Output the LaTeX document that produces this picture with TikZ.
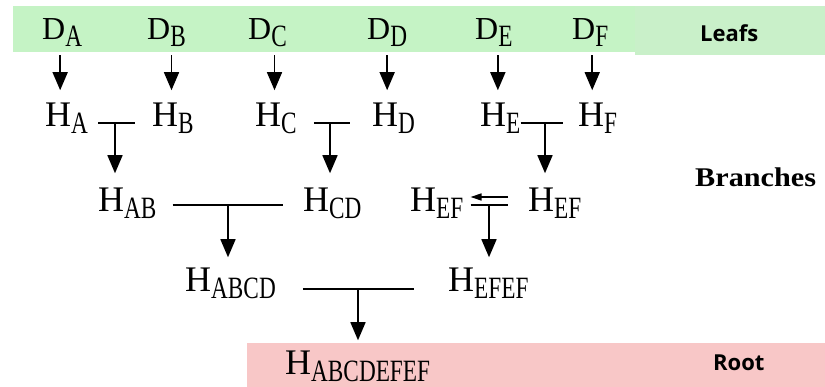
\documentclass[tikz,border=0pt]{standalone}
\usepackage{fontspec}
\usepackage{graphicx}
\setmainfont{Liberation Serif}
\newfontfamily\tagfont{Open Sans}
\usetikzlibrary{arrows.meta}
\definecolor{leafgreen}{RGB}{197,243,197}
\definecolor{leafgreenR}{RGB}{201,240,201}
\definecolor{rootpink}{RGB}{248,199,199}
\newcommand{\hsub}[1]{\raisebox{-6.5pt}{\scalebox{0.75}[1]{\fontsize{31}{31}\selectfont #1}}}

\begin{document}
\begin{tikzpicture}[x=1pt,y=1pt,
        hash node/.style={inner sep=0pt,anchor=base west,font=\fontsize{36}{36}\selectfont},
        data node/.style={inner sep=0pt,anchor=base west,font=\fontsize{32}{32}\selectfont},
        tag node/.style={inner sep=0pt,anchor=base west,font=\tagfont\bfseries\fontsize{22}{22}\selectfont},
        merge line/.style={line width=1.5pt},
        arr/.style={line width=1.5pt,-{Triangle[width=15pt,length=18pt]}}]

    \useasboundingbox (0,0) rectangle (825,387);
    \fill[leafgreen] (13,335) rectangle (635,381);
    \fill[leafgreenR] (635,332) rectangle (825,381);
    \fill[rootpink] (247,0) rectangle (825,44);

    % leafs
    \node[data node] (da) at (42,347)  {D\hsub{A}};
    \node[data node] (db) at (147,347) {D\hsub{B}};
    \node[data node] (dc) at (248,347) {D\hsub{C}};
    \node[data node] (dd) at (367,347) {D\hsub{D}};
    \node[data node] (de) at (475,347) {D\hsub{E}};
    \node[data node] (df) at (572,347) {D\hsub{F}};

    % branches
    \node[hash node] (ha) at (45,260)  {H\hsub{A}};
    \node[hash node] (hb) at (152,260) {H\hsub{B}};
    \node[hash node] (hc) at (255,260) {H\hsub{C}};
    \node[hash node] (hd) at (372,260) {H\hsub{D}};
    \node[hash node] (he) at (480,260) {H\hsub{E}};
    \node[hash node] (hf) at (578,260) {H\hsub{F}};

    \node[hash node] (hab) at (98,175)   {H\hsub{AB}};
    \node[hash node] (hcd) at (303,175)  {H\hsub{CD}};
    \node[hash node] (hefl) at (410,175) {H\hsub{EF}};
    \node[hash node] (hefr) at (528,175) {H\hsub{EF}};

    \node[hash node] (habcd) at (185,95) {H\hsub{ABCD}};
    \node[hash node] (hefef) at (448,95) {H\hsub{EFEF}};

    % root
    \node[hash node] (hroot) at (285,12) {H\hsub{ABCDEFEF}};

    \node[tag node] (leafs) at (700,345) {Leafs};
    \node[inner sep=0pt,anchor=base west,font=\bfseries\fontsize{27}{27}\selectfont] (branches) at (695,200) {\scalebox{1.12}[1]{Branches}};
    \node[tag node] (root) at (713,16) {Root};

    \foreach \dn/\hn/\dx in {da/ha/-2,db/hb/5,dc/hc/7,dd/hd/0,de/he/4,df/hf/2}
        \draw[arr] ([xshift=\dx pt,yshift=-8.5pt]\dn.south) -- ([xshift=\dx pt,yshift=13pt]\dn.south |- \hn.north);

    \coordinate (jab) at (115,264);
    \draw[merge line,shorten <=10pt,shorten >=17pt] (ha.east |- jab) -- (hb.west |- jab);
    \draw[arr] (jab) -- ([yshift=15pt]jab |- hab.north);

    \coordinate (jcd) at (330,264);
    \draw[merge line,shorten <=17pt,shorten >=22pt] (hc.east |- jcd) -- (hd.west |- jcd);
    \draw[arr] (jcd) -- ([yshift=15pt]jcd |- hcd.north);

    \coordinate (jef) at (545,264);
    \draw[merge line,shorten >=15pt] (he.east |- jef) -- (hf.west |- jef);
    \draw[arr] (jef) -- ([yshift=15pt]jef |- hefr.north);

    \coordinate (jabcd) at (228,182);
    \draw[merge line,shorten <=16pt,shorten >=20pt] (hab.east |- jabcd) -- (hcd.west |- jabcd);
    \draw[arr] (jabcd) -- ([yshift=11pt]jabcd |- habcd.north);

    \coordinate (jefef) at (489,182);
    \draw[merge line,shorten <=7pt,shorten >=20pt] (hefl.east |- jefef) -- (hefr.west |- jefef);
    \draw[merge line,-{Triangle[width=7pt,length=11pt]},shorten <=20pt,shorten >=7pt]
        ([yshift=8pt]hefr.west |- jefef) -- ([yshift=8pt]hefl.east |- jefef);
    \draw[arr] (jefef) -- ([yshift=11pt]jefef |- hefef.north);

    \coordinate (jroot) at (358,98);
    \draw[merge line,shorten <=27pt,shorten >=34pt] (habcd.east |- jroot) -- (hefef.west |- jroot);
    \draw[arr] (jroot) -- ([yshift=11pt]jroot |- hroot.north);

\end{tikzpicture}
\end{document}
